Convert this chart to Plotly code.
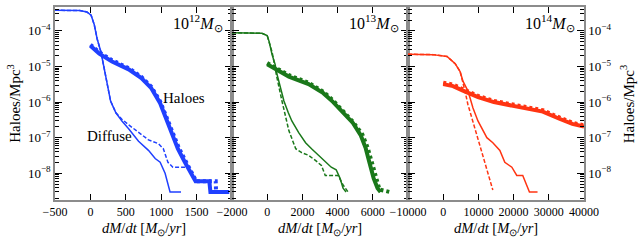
import plotly.graph_objects as go

# ---------------- data ----------------
# Panel 1: 1e12 Msun (blue)
p1_halo_x = [0, 125, 305, 540, 720, 860, 985, 1055, 1140, 1235, 1335, 1415, 1485, 1680, 1695, 1960]
p1_halo_y = [3.8e-5, 2.3e-5, 1.38e-5, 8.3e-6, 4.7e-6, 2.45e-6, 9.3e-7, 4.1e-7, 1.55e-7, 4.9e-8,
             2.04e-8, 1.07e-8, 6.0e-9, 6.0e-9, 3.0e-9, 3.0e-9]
p1_halo_dot_x = [0, 125, 305, 540, 720, 860, 985, 1060, 1150, 1245, 1345, 1425, 1495, 1770, 1775, 1960]
p1_halo_dot_y = [4.1e-5, 2.5e-5, 1.5e-5, 9.0e-6, 5.1e-6, 2.7e-6, 1.05e-6, 4.6e-7, 1.7e-7, 5.4e-8,
                 2.2e-8, 1.15e-8, 6.0e-9, 6.0e-9, 3.0e-9, 3.0e-9]
p1_diff_x = [-500, -150, -50, 10, 55, 95, 150, 195, 235, 285, 360, 445, 540, 680, 820, 915, 985, 1055, 1125, 1280]
p1_diff_y = [3.8e-4, 3.7e-4, 3.4e-4, 2.75e-4, 1.48e-4, 6.0e-5, 2.5e-5, 8.7e-6, 3.2e-6, 1.07e-6,
             5.0e-7, 2.95e-7, 1.78e-7, 7.9e-8, 4.4e-8, 2.6e-8, 2.04e-8, 1.0e-8, 3.0e-9, 3.0e-9]
p1_diffd_x = [-500, -150, -50, 10, 55, 95, 150, 195, 235, 285, 360, 445, 540, 680, 820, 960, 1030, 1095, 1165, 1400]
p1_diffd_y = [3.8e-4, 3.7e-4, 3.4e-4, 2.75e-4, 1.48e-4, 6.0e-5, 2.5e-5, 8.7e-6, 3.2e-6, 1.07e-6,
              5.0e-7, 3.3e-7, 2.3e-7, 1.38e-7, 8.7e-8, 6.8e-8, 4.9e-8, 2.04e-8, 1.48e-8, 1.48e-8]

# Panel 2: 1e13 Msun (green)
p2_halo_x = [0, 500, 1230, 2350, 3190, 3750, 4310, 4870, 5320, 5600, 5820, 6050, 6270, 6440]
p2_halo_y = [1.15e-5, 8.3e-6, 5.2e-6, 3.2e-6, 1.78e-6, 1.0e-6, 5.0e-7, 2.6e-7, 1.15e-7, 5.0e-8,
             1.9e-8, 7.2e-9, 3.8e-9, 3.0e-9]
p2_halo_dot_x = [0, 500, 1230, 2350, 3190, 3750, 4310, 4870, 5400, 5700, 5950, 6180, 6380, 6940]
p2_halo_dot_y = [1.25e-5, 9.0e-6, 5.7e-6, 3.5e-6, 1.95e-6, 1.1e-6, 5.5e-7, 2.8e-7, 1.25e-7, 5.4e-8,
                 2.0e-8, 7.5e-9, 3.5e-9, 3.0e-9]
p2_diff_x = [-2000, -300, 0, 110, 280, 450, 560, 780, 950, 1200, 1400, 1790, 2180, 2520, 3080, 3640, 3920, 4140, 4310, 4480]
p2_diff_y = [8.9e-5, 8.5e-5, 7.4e-5, 5.0e-5, 2.14e-5, 1.15e-5, 6.0e-6, 2.45e-6, 1.07e-6, 5.0e-7,
             2.95e-7, 1.38e-7, 7.2e-8, 4.9e-8, 2.75e-8, 1.48e-8, 1.26e-8, 7.2e-9, 3.8e-9, 3.0e-9]
p2_diffd_x = [-2000, -300, 0, 280, 560, 670, 840, 1230, 1620, 1960, 2350, 2740, 3080, 3300, 4030, 4310, 4590]
p2_diffd_y = [8.9e-5, 8.5e-5, 7.4e-5, 2.5e-5, 4.7e-6, 2.45e-6, 1.07e-6, 1.58e-7, 4.9e-8, 3.8e-8,
              3.2e-8, 2.3e-8, 1.66e-8, 8.7e-9, 8.7e-9, 4.7e-9, 3.0e-9]

# Panel 3: 1e14 Msun (red)
p3_halo_x = [0, 2800, 5600, 9900, 14400, 19000, 23700, 28300, 33000, 36700, 40000]
p3_halo_y = [3.2e-6, 2.8e-6, 2.1e-6, 1.38e-6, 1.0e-6, 8.3e-7, 6.8e-7, 5.4e-7, 3.4e-7, 2.45e-7, 2.04e-7]
p3_halo_dot_x = [0, 2800, 5600, 9900, 14400, 19000, 23700, 28300, 33000, 36700, 40000]
p3_halo_dot_y = [3.5e-6, 3.1e-6, 2.3e-6, 1.5e-6, 1.08e-6, 9.0e-7, 7.4e-7, 5.9e-7, 3.7e-7, 2.65e-7, 2.2e-7]
p3_diff_x = [-10000, -3000, 1100, 3400, 4800, 5640, 7050, 8460, 9870, 12400, 14100, 16100, 17500, 19500,
             20900, 22600, 24500, 26800]
p3_diff_y = [2.2e-5, 2.15e-5, 1.9e-5, 1.2e-5, 7.2e-6, 3.8e-6, 2.04e-6, 6.8e-7, 2.95e-7, 1.0e-7, 7.2e-8,
             4.4e-8, 2.04e-8, 1.48e-8, 8.7e-9, 8.7e-9, 3.0e-9, 3.0e-9]
p3_diffd_x = [-10000, -3000, 1100, 3400, 4800, 5400, 6200, 7000, 8200, 9600, 10700, 11800, 13000, 14100]
p3_diffd_y = [2.2e-5, 2.15e-5, 1.9e-5, 1.2e-5, 7.2e-6, 4.5e-6, 2.04e-6, 8.7e-7, 3.4e-7, 1.0e-7,
              4.4e-8, 1.9e-8, 7.8e-9, 3.4e-9]

# tick labels
x1_ticks = [-500, 0, 500, 1000, 1500, 2000]
x1_labels = ["\u2212500", "0", "500", "1000", "1500", ""]
x2_ticks = [-2000, 0, 2000, 4000, 6000, 8000]
x2_labels = ["\u22122000", "0", "2000", "4000", "6000", ""]
x3_ticks = [-10000, 0, 10000, 20000, 30000, 40000]
x3_labels = ["\u221210000", "0", "10000", "20000", "30000", "40000"]
y_ticks = [1e-8, 1e-7, 1e-6, 1e-5, 1e-4]
y_labels = ["10<sup>\u22128</sup>", "10<sup>\u22127</sup>", "10<sup>\u22126</sup>",
            "10<sup>\u22125</sup>", "10<sup>\u22124</sup>"]
mass_labels = ["10<sup>12</sup><i>M</i><sub>\u2299</sub>", "10<sup>13</sup><i>M</i><sub>\u2299</sub>",
               "10<sup>14</sup><i>M</i><sub>\u2299</sub>"]

BLUE = "#2040ff"
GREEN = "#1a781a"
RED = "#ff3412"
FONT = "Liberation Serif"

fig = go.Figure()

panels = [
    ("x", "y", BLUE, p1_halo_x, p1_halo_y, p1_halo_dot_x, p1_halo_dot_y, p1_diff_x, p1_diff_y, p1_diffd_x, p1_diffd_y),
    ("x2", "y2", GREEN, p2_halo_x, p2_halo_y, p2_halo_dot_x, p2_halo_dot_y, p2_diff_x, p2_diff_y, p2_diffd_x, p2_diffd_y),
    ("x3", "y3", RED, p3_halo_x, p3_halo_y, p3_halo_dot_x, p3_halo_dot_y, p3_diff_x, p3_diff_y, p3_diffd_x, p3_diffd_y),
]
for xa, ya, col, hx, hy, hdx, hdy, dx, dy, ddx, ddy in panels:
    fig.add_trace(go.Scatter(x=dx, y=dy, xaxis=xa, yaxis=ya, mode="lines",
                             line=dict(color=col, width=1.5)))
    fig.add_trace(go.Scatter(x=ddx, y=ddy, xaxis=xa, yaxis=ya, mode="lines",
                             line=dict(color=col, width=1.5, dash="4px,2px")))
    fig.add_trace(go.Scatter(x=hdx, y=hdy, xaxis=xa, yaxis=ya, mode="lines",
                             line=dict(color=col, width=4, dash="3px,3px")))
    fig.add_trace(go.Scatter(x=hx, y=hy, xaxis=xa, yaxis=ya, mode="lines",
                             line=dict(color=col, width=4)))

minor_vals = [k * 10.0 ** n for n in range(-10, -2) for k in range(2, 10)]

W = 529.0
doms = [[0, 177 / W], [177 / W, 353 / W], [353 / W, 1]]
xr = [[-500, 2000], [-2000, 8000], [-10000, 40000]]
xt = [(x1_ticks, x1_labels), (x2_ticks, x2_labels), (x3_ticks, x3_labels)]

axis_common = dict(showline=True, linecolor="#8c8c8c", linewidth=1.5, mirror="ticks",
                   ticks="inside", tickcolor="black", tickwidth=1, showgrid=False, zeroline=False,
                   tickfont=dict(family=FONT, size=12, color="black"))

layout = dict(
    width=640, height=240,
    margin=dict(l=55, r=56, t=5, b=40),
    paper_bgcolor="white", plot_bgcolor="white",
    showlegend=False,
    font=dict(family=FONT, color="black"),
)
for i in range(3):
    sfx = "" if i == 0 else str(i + 1)
    layout["xaxis" + sfx] = dict(axis_common, domain=doms[i], range=xr[i], anchor="y" + sfx,
                                 tickmode="array", tickvals=xt[i][0], ticktext=xt[i][1], ticklen=6)
    ycfg = dict(axis_common, type="log", range=[-8.75, -3.33], anchor="x" + sfx, domain=[0, 1],
                tickmode="array", tickvals=y_ticks, ticktext=y_labels, ticklen=7,
                tickfont=dict(family=FONT, size=13, color="black"),
                minor=dict(ticks="inside", ticklen=4, tickcolor="black", tickwidth=0.8,
                           tickmode="array", tickvals=minor_vals, showgrid=False))
    if i == 1:
        ycfg["showticklabels"] = False
    if i == 2:
        ycfg["side"] = "right"
    layout["yaxis" + sfx] = ycfg

fig.update_layout(**layout)

annotations = []
xtitle = "<i>dM</i>/<i>dt</i> [<i>M</i><sub>\u2299</sub>/<i>yr</i>]"
for i in range(3):
    sfx = "" if i == 0 else str(i + 1)
    annotations.append(dict(text=xtitle, xref="x" + sfx + " domain", yref="paper", x=0.5, y=-0.15,
                            xanchor="center", yanchor="middle", showarrow=False,
                            font=dict(family=FONT, size=14.5, color="black")))
    annotations.append(dict(text=mass_labels[i], xref="x" + sfx + " domain", yref="paper", x=1, xshift=-7,
                            y=0.915, xanchor="right", yanchor="middle", showarrow=False,
                            font=dict(family=FONT, size=16, color="black")))
annotations.append(dict(text="Haloes/Mpc<sup>3</sup>", xref="paper", yref="paper", x=-0.079, y=0.5,
                        textangle=-90, xanchor="center", yanchor="middle", showarrow=False,
                        font=dict(family=FONT, size=15, color="black")))
annotations.append(dict(text="Haloes/Mpc<sup>3</sup>", xref="paper", yref="paper", x=1.081, y=0.5,
                        textangle=-90, xanchor="center", yanchor="middle", showarrow=False,
                        font=dict(family=FONT, size=15, color="black")))
annotations.append(dict(text="Haloes", xref="x", yref="y", x=1000, y=-5.89, xanchor="left",
                        yanchor="middle", showarrow=False, font=dict(family=FONT, size=15, color="black")))
annotations.append(dict(text="Diffuse", xref="x", yref="y", x=-70, y=-6.94, xanchor="left",
                        yanchor="middle", showarrow=False, font=dict(family=FONT, size=15, color="black")))
fig.update_layout(annotations=annotations)

fig.write_html("out.html", config={"displayModeBar": False},
               post_script="document.body.style.margin='0';")
